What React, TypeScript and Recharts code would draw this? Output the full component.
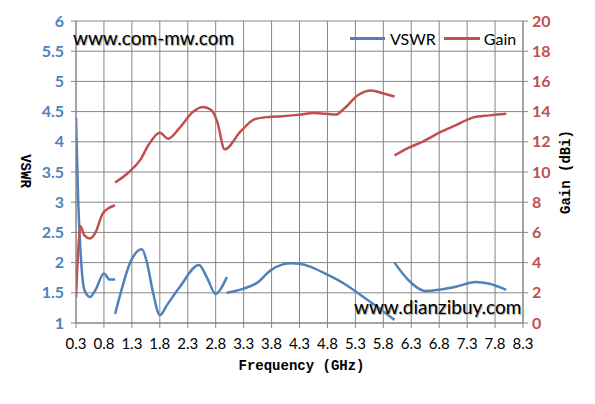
import { LineChart, Line, XAxis, YAxis, CartesianGrid } from "recharts";

// Frequency (GHz) and values, one array per drawn segment
const vswrFreq1 = [0.3, 0.34, 0.38, 0.45, 0.55, 0.65, 0.8, 0.9, 1.0];
const vswrVal1 = [4.4, 3.0, 2.2, 1.55, 1.43, 1.55, 1.82, 1.72, 1.72];
const vswrFreq2 = [1.0, 1.1, 1.27, 1.48, 1.57, 1.68, 1.8, 1.93, 2.16, 2.5, 2.64, 2.8, 2.9, 3.0];
const vswrVal2 = [1.15, 1.5, 2.0, 2.22, 2.0, 1.5, 1.13, 1.3, 1.6, 1.96, 1.76, 1.48, 1.58, 1.76];
const vswrFreq3 = [3.0, 3.3, 3.55, 3.78, 4.0, 4.15, 4.3, 4.5, 4.8, 5.1, 5.4, 5.7, 6.0];
const vswrVal3 = [1.5, 1.57, 1.67, 1.87, 1.97, 1.99, 1.98, 1.93, 1.8, 1.65, 1.46, 1.26, 1.05];
const vswrFreq4 = [6.0, 6.25, 6.55, 6.8, 7.1, 7.45, 7.7, 8.0];
const vswrVal4 = [2.0, 1.71, 1.53, 1.55, 1.6, 1.68, 1.65, 1.55];

const gainFreq1 = [0.3, 0.34, 0.38, 0.45, 0.55, 0.65, 0.77, 0.88, 1.0];
const gainVal1 = [1.7, 4.8, 6.4, 5.8, 5.6, 6.0, 7.2, 7.6, 7.8];
const gainFreq2 = [1.0, 1.25, 1.45, 1.6, 1.8, 1.95, 2.15, 2.4, 2.57, 2.72, 2.83, 2.96, 3.25, 3.5, 3.75, 4.0, 4.3, 4.55, 4.95, 5.1, 5.35, 5.58, 5.8, 6.0];
const gainVal2 = [9.3, 10.0, 10.8, 11.8, 12.6, 12.2, 12.9, 14.0, 14.3, 14.1, 13.3, 11.5, 12.7, 13.5, 13.65, 13.7, 13.8, 13.9, 13.8, 14.2, 15.1, 15.4, 15.2, 15.0];
const gainFreq3 = [6.0, 6.25, 6.5, 6.8, 7.1, 7.4, 7.7, 8.0];
const gainVal3 = [11.1, 11.6, 12.0, 12.6, 13.1, 13.6, 13.75, 13.85];

const freqTicks = [0.3, 0.8, 1.3, 1.8, 2.3, 2.8, 3.3, 3.8, 4.3, 4.8, 5.3, 5.8, 6.3, 6.8, 7.3, 7.8, 8.3];
const vswrTicks = [1, 1.5, 2, 2.5, 3, 3.5, 4, 4.5, 5, 5.5, 6];
const gainTicks = [0, 2, 4, 6, 8, 10, 12, 14, 16, 18, 20];

const BLUE = "#4F81BD";
const RED = "#C0504D";
const GRID = "#868686";

const zip = (fs: number[], vs: number[]) => fs.map((f, i) => ({ f, v: vs[i] }));

const vswrSegments = [
  zip(vswrFreq1, vswrVal1),
  zip(vswrFreq2, vswrVal2),
  zip(vswrFreq3, vswrVal3),
  zip(vswrFreq4, vswrVal4),
];
const gainSegments = [
  zip(gainFreq1, gainVal1),
  zip(gainFreq2, gainVal2),
  zip(gainFreq3, gainVal3),
];

const tickFont = "Lato, 'Open Sans', sans-serif";
const titleFont = "'Liberation Mono', 'DejaVu Sans Mono', monospace";

export default function App() {
  return (
    <div style={{ position: "absolute", left: 0, top: 0, width: 595, height: 404, background: "#fff" }}>
      <LineChart width={595} height={404} margin={{ top: 21, right: 0, bottom: 0, left: 0 }}>
        <CartesianGrid stroke={GRID} strokeWidth={1} yAxisId="vswr" />
        <XAxis
          dataKey="f"
          type="number"
          domain={[0.3, 8.3]}
          ticks={freqTicks}
          allowDataOverflow
          height={81}
          stroke={GRID}
          tickSize={5}
          tickMargin={10}
          tick={{ fill: "#000", fontSize: 15, fontFamily: tickFont }}
          tickFormatter={(v: number) => v.toFixed(1)}
        />
        <YAxis
          yAxisId="vswr"
          domain={[1, 6]}
          ticks={vswrTicks}
          width={76}
          stroke={GRID}
          tickSize={5}
          tickMargin={7}
          tick={{ fill: BLUE, fontSize: 16, fontWeight: 700, fontFamily: tickFont }}
        />
        <YAxis
          yAxisId="gain"
          orientation="right"
          domain={[0, 20]}
          ticks={gainTicks}
          width={72}
          stroke={GRID}
          tickSize={5}
          tickMargin={4}
          tick={{ fill: RED, fontSize: 16, fontWeight: 700, fontFamily: tickFont }}
        />
        {vswrSegments.map((seg, i) => (
          <Line
            key={"v" + i}
            yAxisId="vswr"
            data={seg}
            dataKey="v"
            type="monotone"
            stroke={BLUE}
            strokeWidth={2.5}
            dot={false}
            isAnimationActive={false}
          />
        ))}
        {gainSegments.map((seg, i) => (
          <Line
            key={"g" + i}
            yAxisId="gain"
            data={seg}
            dataKey="v"
            type="monotone"
            stroke={RED}
            strokeWidth={2.5}
            dot={false}
            isAnimationActive={false}
          />
        ))}
      </LineChart>

      {/* legend */}
      <div style={{ position: "absolute", left: 350, top: 28, height: 20, display: "flex", alignItems: "center", fontFamily: tickFont, fontSize: 16, color: "#000" }}>
        <span style={{ display: "inline-block", width: 35, height: 3, background: BLUE, marginRight: 5 }} />
        <span style={{ marginRight: 8 }}>VSWR</span>
        <span style={{ display: "inline-block", width: 36, height: 3, background: RED, marginRight: 4 }} />
        <span>Gain</span>
      </div>

      {/* watermarks */}
      <div style={{ position: "absolute", left: 73, top: 26, fontFamily: tickFont, fontSize: 19, color: "#000", textShadow: "1px 1px 1px #aaa", whiteSpace: "nowrap" }}>
        www.com-mw.com
      </div>
      <div style={{ position: "absolute", left: 354, top: 295, fontFamily: tickFont, fontSize: 19, color: "#000", textShadow: "1px 1px 1px #aaa", whiteSpace: "nowrap" }}>
        www.dianzibuy.com
      </div>

      {/* axis titles */}
      <div style={{ position: "absolute", left: 0, width: 595, top: 358, textAlign: "center", paddingLeft: 4, fontFamily: titleFont, fontWeight: 700, fontSize: 14, color: "#000" }}>
        Frequency (GHz)
      </div>
      <div style={{ position: "absolute", left: 25, top: 171, transform: "translate(-50%, -50%) rotate(90deg)", fontFamily: titleFont, fontWeight: 700, fontSize: 14, color: "#000", whiteSpace: "nowrap" }}>
        VSWR
      </div>
      <div style={{ position: "absolute", left: 566, top: 172, transform: "translate(-50%, -50%) rotate(-90deg)", fontFamily: titleFont, fontWeight: 700, fontSize: 14, color: "#000", whiteSpace: "nowrap" }}>
        Gain (dBi)
      </div>
    </div>
  );
}
